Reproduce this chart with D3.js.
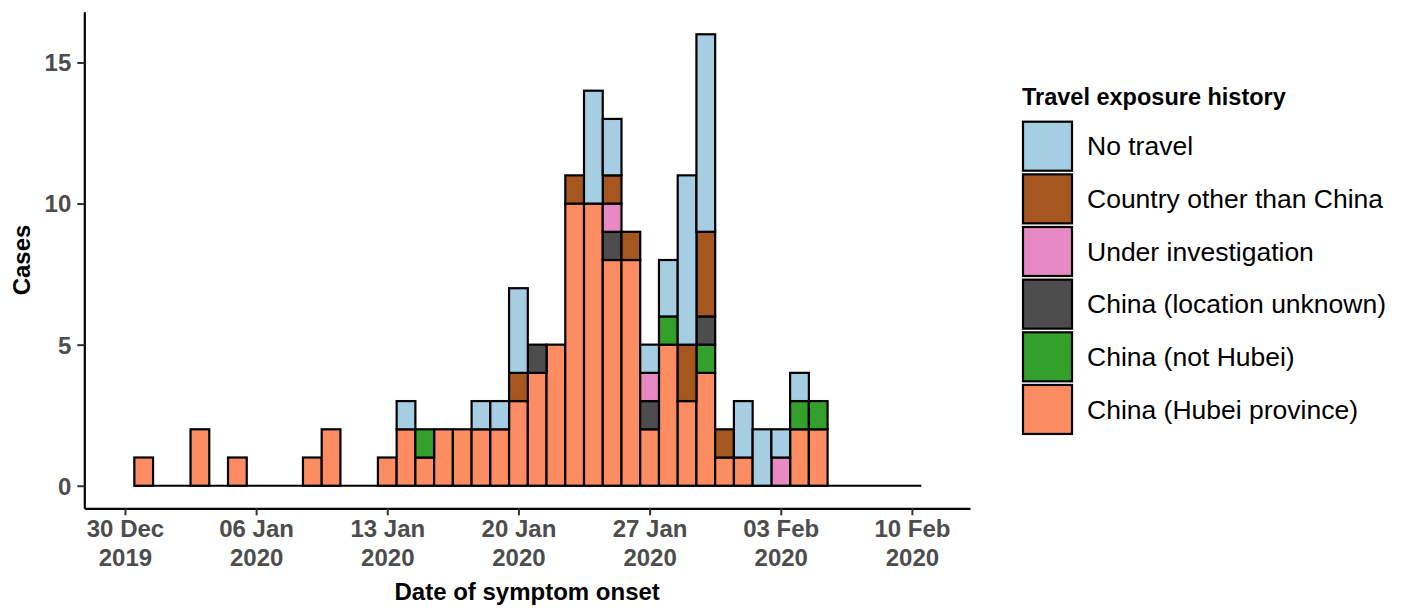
<!DOCTYPE html>
<html>
<head>
<meta charset="utf-8">
<script src="https://cdn.jsdelivr.net/npm/d3@7"></script>
<style>
  body { margin: 0; background: #fff; }
  text { font-family: "Liberation Sans", Arial, Helvetica, sans-serif; }
</style>
</head>
<body>
<svg width="1407" height="608"></svg>
<script>
// onset dates, one bin per day
const dates = [
  "2019-12-31", "2020-01-01", "2020-01-02", "2020-01-03", "2020-01-04", "2020-01-05", "2020-01-06",
  "2020-01-07", "2020-01-08", "2020-01-09", "2020-01-10", "2020-01-11", "2020-01-12", "2020-01-13",
  "2020-01-14", "2020-01-15", "2020-01-16", "2020-01-17", "2020-01-18", "2020-01-19", "2020-01-20",
  "2020-01-21", "2020-01-22", "2020-01-23", "2020-01-24", "2020-01-25", "2020-01-26", "2020-01-27",
  "2020-01-28", "2020-01-29", "2020-01-30", "2020-01-31", "2020-02-01", "2020-02-02", "2020-02-03",
  "2020-02-04", "2020-02-05", "2020-02-06", "2020-02-07", "2020-02-08", "2020-02-09", "2020-02-10"
];

const hubei        = [1,0,0,2,0,1,0,0,0,1, 2,0,0,1,2,1,2,2,2,2, 3,4,5,10,10,8,8,2,5,3, 4,1,1,0,0,2,2,0,0,0, 0,0];
const notHubei     = [0,0,0,0,0,0,0,0,0,0, 0,0,0,0,0,1,0,0,0,0, 0,0,0,0,0,0,0,0,1,0, 1,0,0,0,0,1,1,0,0,0, 0,0];
const unknownLoc   = [0,0,0,0,0,0,0,0,0,0, 0,0,0,0,0,0,0,0,0,0, 0,1,0,0,0,1,0,1,0,0, 1,0,0,0,0,0,0,0,0,0, 0,0];
const underInv     = [0,0,0,0,0,0,0,0,0,0, 0,0,0,0,0,0,0,0,0,0, 0,0,0,0,0,1,0,1,0,0, 0,0,0,0,1,0,0,0,0,0, 0,0];
const otherCountry = [0,0,0,0,0,0,0,0,0,0, 0,0,0,0,0,0,0,0,0,0, 1,0,0,1,0,1,1,0,0,2, 3,1,0,0,0,0,0,0,0,0, 0,0];
const noTravel     = [0,0,0,0,0,0,0,0,0,0, 0,0,0,0,1,0,0,0,1,1, 3,0,0,0,4,2,0,1,2,6, 7,0,2,2,1,1,0,0,0,0, 0,0];

// legend order (top to bottom)
const categories = ["No travel", "Country other than China", "Under investigation",
  "China (location unknown)", "China (not Hubei)", "China (Hubei province)"];
const catColors = ["#A6CEE3", "#A6561F", "#E78AC3", "#4D4D4D", "#33A02C", "#FC8D62"];
const seriesData = [noTravel, otherCountry, underInv, unknownLoc, notHubei, hubei];

const yTicks = [0, 5, 10, 15];
const xTicks = ["2019-12-30", "2020-01-06", "2020-01-13", "2020-01-20", "2020-01-27", "2020-02-03", "2020-02-10"];

let parseDay = d3.utcParse("%Y-%m-%d");
const DAY = 864e5;

let svg = d3.select("svg");

// panel
const pLeft = 84.3, pRight = 970, pTop = 11.7, pBottom = 508.3;

let start = parseDay("2019-12-30");
let xScale = d3.scaleUtc()
    .domain([new Date(+start - 2.17 * DAY), new Date(+start + 45.1 * DAY)])
    .range([pLeft, pRight]);

let yScale = d3.scaleLinear()
    .domain([-0.8, 16.8])
    .range([pBottom, pTop]);

let colorScale = d3.scaleOrdinal().domain(categories).range(catColors);

// table for the stack
let rows = dates.map((d, i) => {
  let r = { date: parseDay(d) };
  categories.forEach((c, k) => r[c] = seriesData[k][i]);
  return r;
});

let stackKeys = categories.slice().reverse();
let stacked = d3.stack().keys(stackKeys)(rows);

let binX0 = d => xScale(new Date(+d - DAY / 2));
let binX1 = d => xScale(new Date(+d + DAY / 2));

let chart = svg.append("g");

// empty days show up as a flat line on zero, drawn once under all the bars
chart.append("line")
    .attr("x1", binX0(rows[0].date))
    .attr("x2", binX1(rows[rows.length - 1].date))
    .attr("y1", yScale(0))
    .attr("y2", yScale(0))
    .attr("stroke", "#000")
    .attr("stroke-width", 2.2);

stacked.forEach(s => {
  chart.append("g")
      .selectAll("rect")
      .data(s.filter(d => d[1] > d[0]))
      .enter()
      .append("rect")
      .attr("x", d => binX0(d.data.date))
      .attr("width", d => binX1(d.data.date) - binX0(d.data.date))
      .attr("y", d => yScale(d[1]))
      .attr("height", d => yScale(d[0]) - yScale(d[1]))
      .attr("fill", colorScale(s.key))
      .attr("stroke", "#000")
      .attr("stroke-width", 2.2);
});

// axes
let yAxis = svg.append("g")
    .attr("transform", `translate(${pLeft}, 0)`)
    .call(d3.axisLeft(yScale).tickValues(yTicks).tickSize(7).tickSizeOuter(0).tickPadding(6));

let xAxis = svg.append("g")
    .attr("transform", `translate(0, ${pBottom})`)
    .call(d3.axisBottom(xScale).tickValues(xTicks.map(parseDay)).tickSize(7).tickSizeOuter(0).tickFormat(""));

[yAxis, xAxis].forEach(a => {
  a.select(".domain").attr("stroke", "#000").attr("stroke-width", 2.2);
  a.selectAll(".tick line").attr("stroke", "#333").attr("stroke-width", 2);
});

yAxis.selectAll(".tick text")
    .attr("font-size", "24px")
    .attr("font-weight", "bold")
    .attr("fill", "#4D4D4D")
    .attr("dy", "0.35em");

let fmtTop = d3.utcFormat("%d %b"), fmtBot = d3.utcFormat("%Y");
xAxis.selectAll(".tick").each(function(d) {
  let t = d3.select(this).append("text")
      .attr("text-anchor", "middle")
      .attr("font-size", "24px")
      .attr("font-weight", "bold")
      .attr("fill", "#4D4D4D");
  t.append("tspan").attr("x", 0).attr("y", 29).text(fmtTop(d));
  t.append("tspan").attr("x", 0).attr("y", 58).text(fmtBot(d));
});

svg.append("text")
    .attr("x", (pLeft + pRight) / 2)
    .attr("y", 600)
    .attr("text-anchor", "middle")
    .attr("font-size", "24px")
    .attr("font-weight", "bold")
    .attr("fill", "#000")
    .text("Date of symptom onset");

svg.append("text")
    .attr("transform", `translate(30, ${(pTop + pBottom) / 2}) rotate(-90)`)
    .attr("text-anchor", "middle")
    .attr("font-size", "24px")
    .attr("font-weight", "bold")
    .attr("fill", "#000")
    .text("Cases");

// legend
let legend = svg.append("g").attr("transform", "translate(1022, 0)");

legend.append("text")
    .attr("x", 0)
    .attr("y", 105)
    .attr("font-size", "23.5px")
    .attr("font-weight", "bold")
    .attr("fill", "#000")
    .text("Travel exposure history");

let items = legend.selectAll(".item")
    .data(categories)
    .enter()
    .append("g")
    .attr("transform", (d, i) => `translate(0, ${121.7 + i * 52.65})`);

items.append("rect")
    .attr("x", 1)
    .attr("y", 0)
    .attr("width", 49)
    .attr("height", 49)
    .attr("fill", d => colorScale(d))
    .attr("stroke", "#000")
    .attr("stroke-width", 2.2);

items.append("text")
    .attr("x", 65)
    .attr("y", 24.5)
    .attr("dy", "0.35em")
    .attr("font-size", "26.5px")
    .attr("fill", "#000")
    .text(d => d);
</script>
</body>
</html>
